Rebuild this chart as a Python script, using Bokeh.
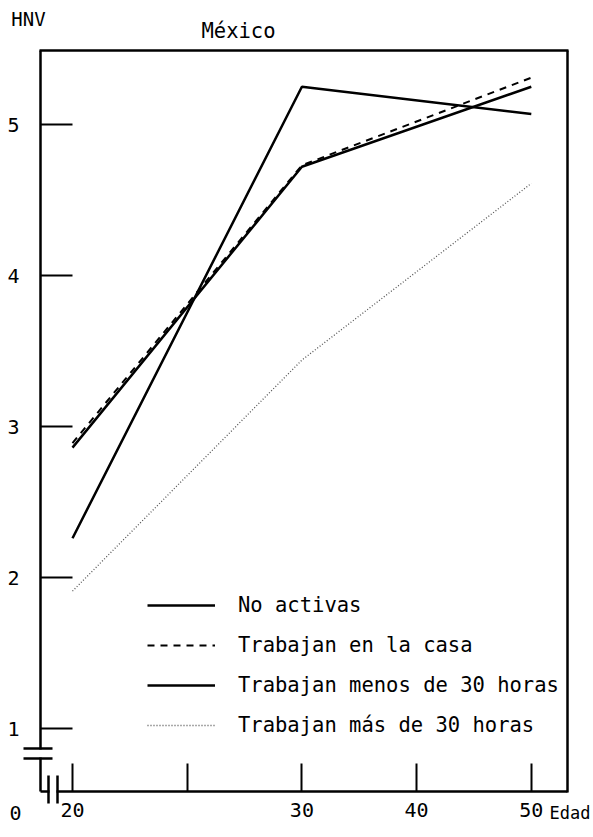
from bokeh.plotting import figure
from bokeh.models import FixedTicker, Legend, LegendItem, Label, Arrow, Range1d, BoxAnnotation
from bokeh.embed import file_html
from bokeh.resources import INLINE

# ---- data ----
tick_labels = ["20", "", "30", "40", "50"]      # Edad axis ticks (unlabeled tick between 20 and 30)
ages = ["20", "30", "50"]                       # ages where values were observed
no_activas = [2.26, 5.25, 5.07]
trabajan_casa = [2.89, 4.73, 5.31]
menos_30 = [2.86, 4.72, 5.25]
mas_30 = [1.91, 3.44, 4.61]
y_ticks = [1, 2, 3, 4, 5]

series_names = ["No activas", "Trabajan en la casa",
                "Trabajan menos de 30 horas", "Trabajan más de 30 horas"]

FONT = "DejaVu Sans Mono"
W, H = 593, 829

x_pos = [tick_labels.index(a) for a in ages]

# pixel -> data helpers for the page layout (frame covers the whole canvas)
X0, XU = 72, 114.7     # px of first tick, px per tick step
Y5, YU = 124, 151      # px of value 5, px per unit


def px_x(px):
    return (px - X0) / XU


def px_y(py):
    return 5 - (py - Y5) / YU


p = figure(width=W, height=H, output_backend="svg", toolbar_location=None,
           x_range=Range1d(px_x(0), px_x(W)), y_range=Range1d(px_y(H), px_y(0)),
           min_border=0, min_border_left=0, min_border_right=0,
           min_border_top=0, min_border_bottom=0)
p.background_fill_color = "white"
p.border_fill_color = "white"
p.xgrid.visible = False
p.ygrid.visible = False
p.outline_line_color = None

# axes placed at fixed locations inside the canvas
p.xaxis.fixed_location = px_y(791)
p.yaxis.fixed_location = px_x(40)
p.xaxis.bounds = (px_x(40), px_x(567))
p.yaxis.bounds = (px_y(791), px_y(50))
p.xaxis.ticker = FixedTicker(ticks=list(range(len(tick_labels))))
p.xaxis.major_label_overrides = {i: t for i, t in enumerate(tick_labels)}
p.yaxis.ticker = FixedTicker(ticks=y_ticks)
for ax in (p.xaxis, p.yaxis):
    ax.axis_line_width = 2.5
    ax.axis_line_color = "black"
    ax.major_tick_line_width = 2
    ax.major_tick_line_color = "black"
    ax.major_tick_out = 0
    ax.minor_tick_line_color = None
    ax.major_label_text_font = FONT
    ax.major_label_text_font_size = "20px"
    ax.major_label_text_color = "black"
p.xaxis.major_tick_in = 28
p.yaxis.major_tick_in = 32
p.xaxis.major_label_standoff = 11
p.yaxis.major_label_standoff = 21

# top and right border of the box
for (x0, y0, x1, y1) in [(39, 50, 568, 50), (567, 50, 567, 792)]:
    p.add_layout(Arrow(end=None, x_start=px_x(x0), y_start=px_y(y0), x_end=px_x(x1), y_end=px_y(y1),
                       line_color="black", line_width=2.5))

r1 = p.line(x_pos, no_activas, line_color="black", line_width=2.5)
r2 = p.line(x_pos, trabajan_casa, line_color="black", line_width=2, line_dash="7 6")
r3 = p.line(x_pos, menos_30, line_color="black", line_width=2.5)
r4 = p.line(x_pos, mas_30, line_color="#555555", line_width=1.3, line_dash="1 2")

legend = Legend(items=[LegendItem(label=n, renderers=[r]) for n, r in
                       zip(series_names, [r1, r2, r3, r4])],
                location=(147, H - 737), orientation="vertical",
                glyph_width=68, glyph_height=24, label_height=24, label_standoff=23,
                spacing=16, padding=0, margin=0,
                border_line_color=None, background_fill_alpha=0,
                label_text_font=FONT, label_text_font_size="20.5px", label_text_color="black")
p.add_layout(legend, "center")

# texts
for (tx, ty, t, al, fs) in [(28, 18, "HNV", "center", "19px"),
                            (238, 30, "México", "center", "20.5px"),
                            (15, 812, "0", "center", "20px"),
                            (549, 812, "Edad", "left", "17px")]:
    p.add_layout(Label(x=px_x(tx), y=px_y(ty), text=t, text_font=FONT, text_font_size=fs,
                       text_align=al, text_baseline="middle", text_color="black"))

# axis break marks
p.add_layout(BoxAnnotation(left=px_x(36), right=px_x(45), bottom=px_y(757), top=px_y(749),
                           fill_color="white", fill_alpha=1, line_color=None))
p.add_layout(BoxAnnotation(left=px_x(49), right=px_x(56), bottom=px_y(795), top=px_y(787),
                           fill_color="white", fill_alpha=1, line_color=None))
for (x0, y0, x1, y1) in [(23, 748, 52, 748), (23, 758, 52, 758),
                         (48, 775, 48, 803), (57, 775, 57, 803)]:
    p.add_layout(Arrow(end=None, x_start=px_x(x0), y_start=px_y(y0), x_end=px_x(x1), y_end=px_y(y1),
                       line_color="black", line_width=2.5))

open("out.html", "w").write(file_html(p, INLINE))
